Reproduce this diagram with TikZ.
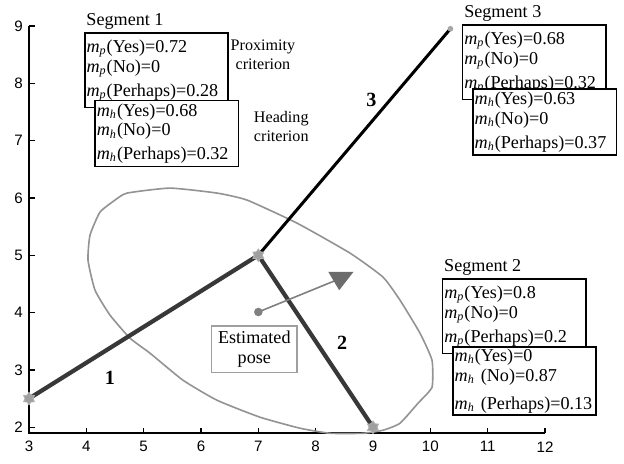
\documentclass[tikz,border=0pt]{standalone}
\usepackage{fontspec}
\setmainfont{Liberation Serif}
\newfontfamily\ticksf{Liberation Sans}
\usetikzlibrary{calc,shapes.geometric}
\newcommand{\mpx}{\textit{m}\textsubscript{\textit{p}}}
\newcommand{\mhx}{\textit{m}\textsubscript{\textit{h}}}

\begin{document}
\begin{tikzpicture}[
  font=\fontsize{9}{9.8}\selectfont,
  valbox/.style={draw,line width=0.8pt,fill=white,align=left,text width=2.44cm,inner xsep=0.03cm,inner ysep=1pt,anchor=north west},
  pbox/.style={valbox,minimum height=1.3cm},
  hbox/.style={valbox,minimum height=1.15cm},
  seglab/.style={anchor=south west,inner sep=1pt},
  critlab/.style={align=center,font=\fontsize{8}{9.5}\selectfont},
  segnum/.style={font=\fontsize{10}{12}\selectfont\bfseries},
  endmark/.style={star,star points=6,star point ratio=1.6,fill=gray!75,draw=gray!60,inner sep=0pt,minimum size=0.22cm}
]
  \useasboundingbox (2.494,1.359) rectangle (13.378,9.452);
  % axes
  \draw[line width=0.8pt] (3,9) -- (3,1.9) -- (12,1.9);
  \foreach \x in {3,...,12}{
    \draw[line width=0.6pt] (\x,1.9) -- ++(0,0.09);
    \node[font=\ticksf\fontsize{7.5}{9}\selectfont] at (\x,1.66) {\x};
  }
  \foreach \y in {2,...,9}{
    \draw[line width=0.6pt] (3,\y) -- ++(0.1,0);
    \node[font=\ticksf\fontsize{7.5}{9}\selectfont,anchor=east,inner sep=0pt] at (2.9,\y) {\y};
  }
  % uncertainty ellipse
  \draw[gray!85,line width=0.8pt] plot[smooth cycle,tension=0.3] coordinates {
    (4.762,3.553) (5.111,3.291) (5.686,2.820) (6.279,2.471) (7.029,2.175)
    (7.727,1.983) (8.250,1.895) (8.826,1.895) (9.175,1.948) (9.471,2.070)
    (9.785,2.419) (10.029,2.698) (10.029,3.169) (9.820,3.640) (9.471,4.216)
    (9.175,4.618) (8.599,5.037) (7.675,5.560) (6.803,5.962) (6.279,6.084)
    (5.459,6.171) (4.709,6.084) (4.500,5.962) (4.238,5.752) (4.064,5.351)
    (4.029,4.914) (4.151,4.391) (4.413,3.955)};
  % segments
  \coordinate (p1) at (3,2.5);
  \coordinate (pc) at (7,5);
  \coordinate (p2) at (9,2);
  \coordinate (p3) at (10.35,8.95);
  \draw[line width=1.5pt,line cap=round] (pc) -- (p3);
  \draw[line width=2.1pt,black!78] (p1) -- (pc) -- (p2);
  \node[endmark] at (p1) {};
  \node[endmark] at (pc) {};
  \node[endmark] at (p2) {};
  \fill[gray!70] (p3) circle (0.05);
  \node[segnum] (n1) at (4.41,2.86) {1};
  \node[segnum] (n2) at (8.46,3.48) {2};
  \node[segnum] (n3) at (8.97,7.71) {3};
  % estimated pose
  \coordinate (pose) at (7,4.01);
  \coordinate (posetip) at (8.42,4.59);
  \draw[gray,line width=0.8pt] (pose) -- (posetip);
  \fill[gray!85!black] (8.22,4.71) -- (8.66,4.71) -- (8.41,4.39) -- cycle;
  \fill[gray] (pose) circle (0.075);
  \node[draw=gray!75,line width=0.8pt,fill=white,align=center,minimum width=1.49cm,minimum height=0.81cm,inner sep=1pt] (est) at (6.93,3.36) {Estimated\\pose};
  % segment 1
  \node[pbox] (s1p) at (3.96,8.89) {\mpx(Yes)=0.72\\ \mpx(No)=0\\[2pt] \mpx(Perhaps)=0.28};
  \node[hbox] (s1h) at ([shift={(0.18,-1.18)}]s1p.north west) {\mhx(Yes)=0.68\\ \mhx(No)=0\\[2pt] \mhx(Perhaps)=0.32};
  \node[seglab] at (s1p.north west) {Segment 1};
  \node[critlab] (prox) at (7.08,8.49) {Proximity\\criterion};
  \node[critlab] (headc) at (7.40,7.24) {Heading\\criterion};
  % segment 3
  \node[pbox] (s3p) at (10.55,9.03) {\mpx(Yes)=0.68\\ \mpx(No)=0\\[2pt] \mpx(Perhaps)=0.32};
  \node[hbox] (s3h) at ([shift={(0.18,-1.12)}]s3p.north west) {\mhx(Yes)=0.63\\ \mhx(No)=0\\[2pt] \mhx(Perhaps)=0.37};
  \node[seglab] at (s3p.north west) {Segment 3};
  % segment 2
  \node[pbox] (s2p) at (10.20,4.60) {\mpx(Yes)=0.8\\ \mpx(No)=0\\[2pt] \mpx(Perhaps)=0.2};
  \node[hbox] (s2h) at ([shift={(0.18,-1.19)}]s2p.north west) {\mhx(Yes)=0\\ \mbox{\mhx{} (No)=0.87}\\[4pt] \mbox{\mhx{} (Perhaps)=0.13}};
  \node[seglab] at (s2p.north west) {Segment 2};
\end{tikzpicture}
\end{document}
